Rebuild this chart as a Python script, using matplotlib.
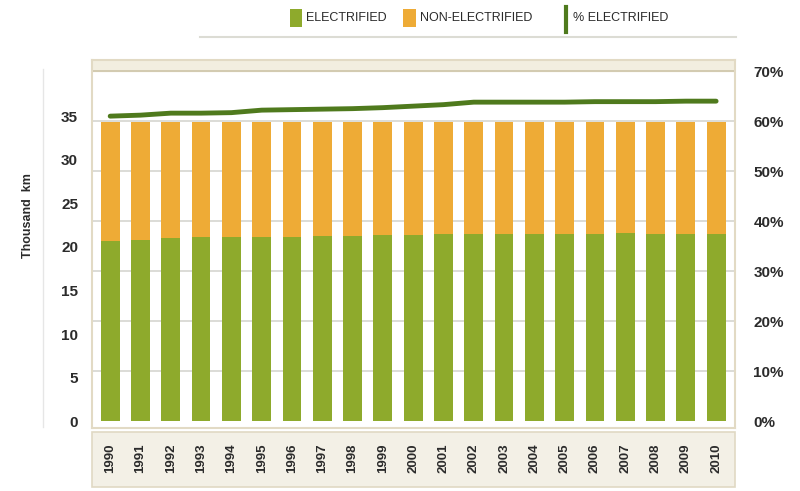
import numpy as np
import matplotlib
matplotlib.use('Agg')
import matplotlib.pyplot as plt
import matplotlib.transforms as mtransforms
from matplotlib.patches import Rectangle
from matplotlib.lines import Line2D

years = [str(y) for y in range(1990, 2011)]
electrified = [20.7, 20.8, 21.0, 21.1, 21.1, 21.2, 21.2, 21.3, 21.3, 21.4, 21.4,
               21.5, 21.5, 21.5, 21.5, 21.5, 21.5, 21.6, 21.5, 21.5, 21.5]
non_electrified = [13.6, 13.5, 13.3, 13.2, 13.2, 13.1, 13.1, 13.0, 13.0, 12.9, 12.9,
                   12.8, 12.8, 12.8, 12.8, 12.8, 12.8, 12.7, 12.8, 12.8, 12.8]
pct_electrified = [61.0, 61.2, 61.6, 61.6, 61.7, 62.2, 62.3, 62.4, 62.5, 62.7, 63.0,
                   63.3, 63.8, 63.8, 63.8, 63.8, 63.9, 63.9, 63.9, 64.0, 64.0]
km_ticks = [0, 5, 10, 15, 20, 25, 30, 35]
pct_ticks = [0, 10, 20, 30, 40, 50, 60, 70]

green = '#8eaa2c'
orange = '#eeab36'
dark_green = '#4f7a1d'
txt = '#2b2b2b'
plt.rcParams['font.family'] = ['Liberation Sans', 'DejaVu Sans']

fig = plt.figure(figsize=(8, 4.91), dpi=100)
fig.patch.set_facecolor('white')

# percentage axis (gridlines + line)
ax = fig.add_axes([0.115, 0.128, 0.804, 0.7495])
ax.set_facecolor('white')
x = np.arange(len(years))
ax.set_xlim(-0.6, 20.63)
ax.set_ylim(-1.4, 72.2)
ax.axhspan(70, 72.2, color='#f2eee0', zorder=0)
for p in pct_ticks[1:]:
    ax.axhline(p, color='#cdc4a8' if p == 70 else '#d6d6d0', lw=1.2, zorder=1)
ax.plot(x, pct_electrified, color=dark_green, lw=3.5, solid_capstyle='round', zorder=5)
ax.set_xticks([])
for s in ax.spines.values():
    s.set_color('#e2dac4')
    s.set_linewidth(1.5)

# km axis (bars)
ax2 = ax.twinx()
ax2.set_ylim(-0.8, 41.45)
ax2.bar(x, electrified, width=0.62, color=green, zorder=3)
ax2.bar(x, non_electrified, bottom=electrified, width=0.62, color=orange, zorder=3)
ax2.set_xticks([])
for s in ax2.spines.values():
    s.set_visible(False)

# put the km ticks on the left, % ticks on the right
ax2.yaxis.tick_left()
ax2.yaxis.set_label_position('left')
ax2.set_yticks(km_ticks)
ax2.set_yticklabels([str(k) for k in km_ticks], fontsize=11, fontweight='bold', color=txt)
ax2.tick_params(axis='y', length=0, pad=10)
ax2.set_ylabel('Thousand  km', fontsize=9, fontweight='bold', color=txt)
ax2.yaxis.set_label_coords(-0.09, 0.579)

ax.yaxis.tick_right()
ax.set_yticks(pct_ticks)
ax.set_yticklabels([f'{p}%' for p in pct_ticks], fontsize=11, fontweight='bold', color=txt)
ax.tick_params(axis='y', length=0, pad=13)

# year label box
fig.add_artist(Rectangle((0.115, 0.008), 0.804, 0.112, transform=fig.transFigure,
                         facecolor='#f3f0e6', edgecolor='#e0d9c4', lw=1.2, zorder=-1))
trans = mtransforms.blended_transform_factory(ax.transData, fig.transFigure)
for i, yr in enumerate(years):
    fig.text(i, 0.067, yr, transform=trans, rotation=90, ha='center', va='center',
             fontsize=9.5, fontweight='bold', color=txt)

# faint vertical line left of y label
fig.add_artist(Line2D([0.054, 0.054], [0.13, 0.86], transform=fig.transFigure,
                      color='#e6e6e6', lw=1))

# legend
fig.add_artist(Line2D([0.25, 0.92], [0.925, 0.925], transform=fig.transFigure,
                      color='#dcdcd4', lw=1.5))
fig.add_artist(Rectangle((0.3625, 0.945), 0.015, 0.036, transform=fig.transFigure,
                         facecolor=green, edgecolor='none'))
fig.text(0.383, 0.963, 'ELECTRIFIED', fontsize=9, color=txt, va='center')
fig.add_artist(Rectangle((0.504, 0.945), 0.016, 0.036, transform=fig.transFigure,
                         facecolor=orange, edgecolor='none'))
fig.text(0.525, 0.963, 'NON-ELECTRIFIED', fontsize=9, color=txt, va='center')
fig.add_artist(Line2D([0.708, 0.708], [0.935, 0.985], transform=fig.transFigure,
                      color=dark_green, lw=3))
fig.text(0.716, 0.963, '% ELECTRIFIED', fontsize=9, color=txt, va='center')

fig.savefig('out.png', dpi=100)
